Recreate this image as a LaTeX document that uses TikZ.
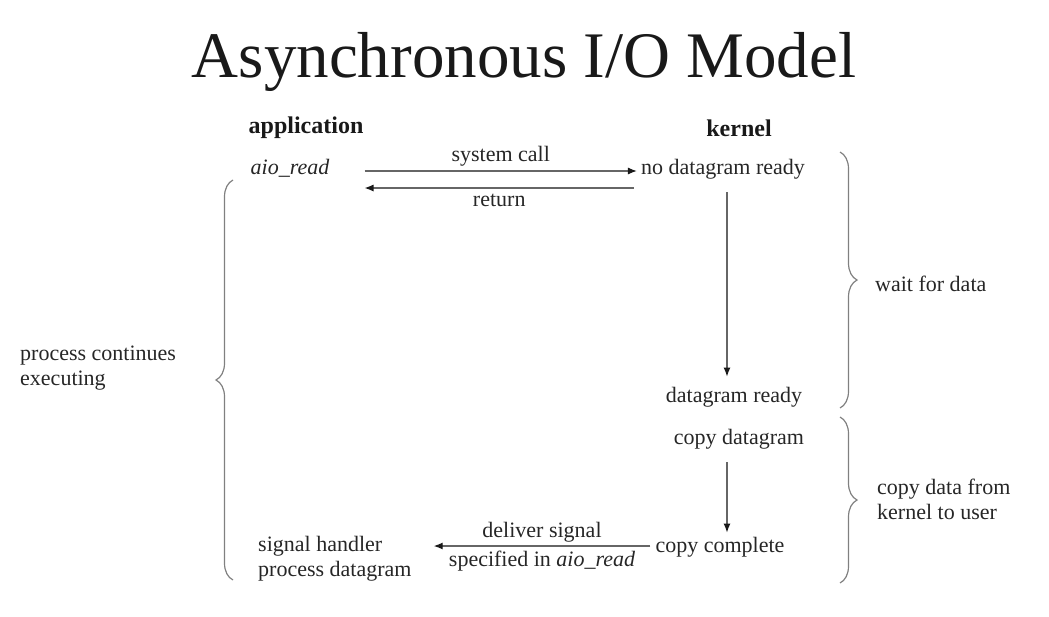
\documentclass[tikz,border=0pt]{standalone}
\usepackage{fontspec}
\setmainfont{Liberation Serif}
\usetikzlibrary{arrows.meta,decorations.pathreplacing}
\begin{document}
\begin{tikzpicture}[x=1pt,y=-1pt,
  txt/.style={inner sep=0pt,text=black!85,font=\fontsize{22}{26}\selectfont,text height=14pt,text depth=4.5pt},
  head/.style={inner sep=0pt,text=black!90,font=\fontsize{24}{28}\selectfont\bfseries},
  lbl/.style={inner sep=0pt,text=black!85,font=\fontsize{22}{26}\selectfont},
  arr/.style={draw=black!60,line width=1.2pt,-{Latex[length=9pt,width=7pt,color=black!90]}},
  brc/.style={draw=black!50,line width=1.2pt,decorate,decoration={brace,amplitude=17pt}}]
\useasboundingbox (0,0) rectangle (1049,616);
\node[inner sep=0pt,text=black!90,font=\fontsize{65}{70}\selectfont] (title) at (524,62) {Asynchronous I/O Model};
\node[head] (app) at (306,128) {application};
\node[head] (ker) at (739,128) {kernel};
\node[txt,font=\fontsize{22}{26}\selectfont\itshape] (aio) at (290,170) {aio\_read};
\node[txt] (nodr) at (723,170) {no datagram ready};
\node[txt] (dr) at (734,398) {datagram ready};
\node[txt] (cd) at (739,440) {copy datagram};
\node[txt] (cc) at (720,548) {copy complete};
\node[txt,align=left,anchor=north west,text height=,text depth=] (sh) at (258,536) {signal handler\\[-1pt]process datagram};
\node[txt,align=left,anchor=west,text height=,text depth=] (pce) at (20,368) {process continues\\[-1pt]executing};
\node[txt,align=left,anchor=west,text height=,text depth=] (wfd) at (875,284) {wait for data};
\node[txt,align=left,anchor=west,text height=,text depth=] (cdk) at (877,499) {copy data from\\[-1pt]kernel to user};
% arrows
\draw[arr] ([xshift=35pt,yshift=-1pt]aio.east) -- node[lbl,above=4pt] (sc) {system call} ([xshift=-4pt,yshift=-1pt]nodr.west);
\draw[arr] ([xshift=-7pt,yshift=-18pt]nodr.west) -- node[lbl,below=6pt] (ret) {return} ([xshift=35pt,yshift=-18pt]aio.east);
\draw[arr] ([xshift=4pt,yshift=-13pt]nodr.south) -- ([xshift=-7pt,yshift=12pt]dr.north);
\draw[arr] ([xshift=-12pt,yshift=-13pt]cd.south) -- ([xshift=7pt,yshift=6pt]cc.north);
\draw[arr] ([xshift=-5pt,yshift=2pt]cc.west) -- node[lbl,above=3pt] (ds) {deliver signal} node[lbl,below=4pt] (sp) {specified in \textit{aio\_read}} ([xshift=22pt,yshift=2pt]cc.west -| sh.east);
% braces
\coordinate (lb1) at (233,580); \coordinate (lb2) at (233,180);
\draw[brc] (lb1) -- (lb2);
\coordinate (rb1) at (840,152); \coordinate (rb2) at (840,408);
\draw[brc] (rb1) -- (rb2);
\coordinate (rc1) at (840,417); \coordinate (rc2) at (840,583);
\draw[brc] (rc1) -- (rc2);
\end{tikzpicture}
\end{document}
